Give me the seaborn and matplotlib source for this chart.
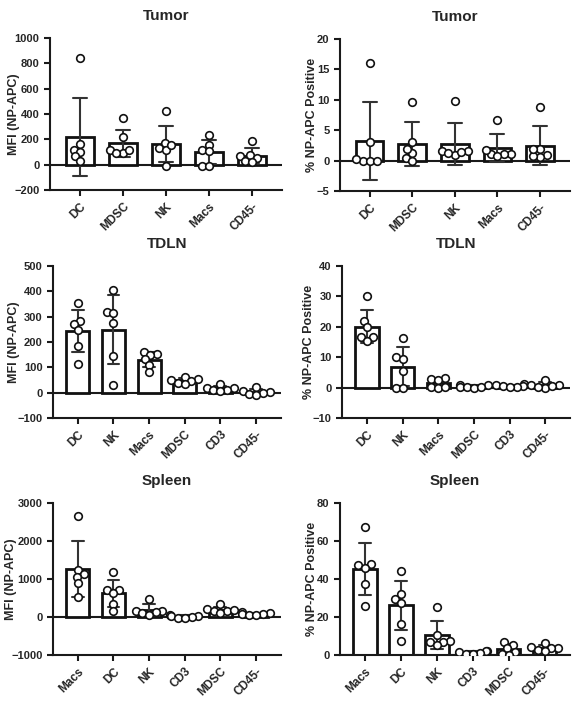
import matplotlib
matplotlib.use("Agg")
import matplotlib.pyplot as plt
import seaborn as sns
import pandas as pd

sns.set_style("ticks")
plt.rcParams["font.family"] = ["Liberation Sans", "DejaVu Sans"]
plt.rcParams["font.weight"] = "bold"
plt.rcParams["axes.labelweight"] = "bold"
plt.rcParams["axes.titleweight"] = "bold"

# individual mice per cell type
tumor_cells = ["DC", "MDSC", "NK", "Macs", "CD45-"]
tumor_mfi = [
    [840, 165, 120, 100, 65, 30],
    [368, 218, 118, 92, 92, 118],
    [426, 171, 132, 118, 152, -13],
    [237, 158, 113, 105, -8, -8],
    [184, 75, 55, 65, 30, 20],
]
tumor_pct = [
    [16.0, 3.0, 0.0, 0.0, 0.0, 0.2],
    [9.7, 3.0, 1.2, 1.9, 0.4, 0.0],
    [9.8, 1.6, 1.5, 0.9, 1.2, 1.4],
    [6.6, 1.15, 1.0, 1.1, 1.8, 0.8],
    [8.8, 1.9, 0.9, 0.6, 0.7, 1.9],
]

tdln_cells = ["DC", "NK", "Macs", "MDSC", "CD3", "CD45-"]
tdln_mfi = [
    [352, 282, 270, 249, 184, 113],
    [407, 319, 313, 273, 144, 32],
    [159, 151, 148, 131, 110, 80],
    [63, 55, 50, 45, 40, 35],
    [35, 20, 17, 12, 10, 8],
    [23, 8, 2, -3, -5, -10],
]
tdln_pct = [
    [30.1, 21.8, 19.8, 16.6, 16.6, 15.4],
    [16.3, 9.9, 9.4, 5.5, 0.0, 0.0],
    [2.8, 3.0, 2.6, 0.1, 0.0, 0.2],
    [0.8, 0.9, 0.3, 0.1, 0.0, 0.2],
    [1.2, 0.9, 0.6, 0.3, 0.5, 0.2],
    [2.5, 0.8, 0.8, 0.0, 0.4, 0.2],
]

spleen_cells = ["Macs", "DC", "NK", "CD3", "MDSC", "CD45-"]
spleen_mfi = [
    [2665, 1236, 1131, 1061, 886, 535],
    [1175, 700, 710, 620, 350, 170],
    [480, 170, 150, 130, 100, 60],
    [50, 30, 20, 0, -20, -40],
    [340, 210, 170, 150, 100, 180],
    [120, 100, 90, 80, 60, 50],
]
spleen_pct = [
    [67.3, 48.0, 47.1, 45.9, 37.5, 26.0],
    [44.1, 32.2, 29.6, 27.5, 16.1, 7.6],
    [25.2, 10.3, 7.6, 6.7, 7.0, 5.4],
    [2.3, 2.1, 1.5, 0.8, 0.4, 0.3],
    [6.7, 5.5, 3.5, 1.8, 0.5, 0.1],
    [6.2, 4.0, 3.7, 3.5, 2.5, 2.1],
]

mfi_label = "MFI (NP-APC)"
pct_label = "% NP-APC Positive"

swarms = []


def panel(rect, cells, values, title, ylabel, yticks, label_x):
    ax = fig.add_axes(rect)
    rows = []
    for c, vals in zip(cells, values):
        for v in vals:
            rows.append({"cell": c, "value": v})
    df = pd.DataFrame(rows)

    ax.axhline(0, color="#1a1a1a", lw=1.5, zorder=0.5)
    sns.barplot(data=df, x="cell", y="value", order=cells, errorbar="sd",
                color="white", edgecolor="#111111", linewidth=2, width=0.65,
                capsize=0.33, err_kws={"color": "#333333", "linewidth": 1.5}, ax=ax)
    n_before = len(ax.collections)
    # swarm laid out with small markers; enlarged later so points overlap like Prism
    sns.swarmplot(data=df, x="cell", y="value", order=cells, color="white",
                  edgecolor="#111111", linewidth=1.2, size=3.6, zorder=3, ax=ax)
    swarms.extend(ax.collections[n_before:])

    ax.set_ylim(yticks[0], yticks[-1])
    ax.set_yticks(yticks)
    ax.set_xlim(-0.7, len(cells) - 0.3)
    sns.despine(ax=ax)
    for s in ["left", "bottom"]:
        ax.spines[s].set_linewidth(1.5)
        ax.spines[s].set_color("#1a1a1a")
    ax.tick_params(axis="y", length=4, width=1.5, labelsize=8, color="#1a1a1a")
    ax.tick_params(axis="x", length=4, width=1.5, labelsize=8.5, color="#1a1a1a")
    plt.setp(ax.get_xticklabels(), rotation=45, ha="right", rotation_mode="anchor")
    ax.set_xlabel("")
    ax.set_ylabel(ylabel, fontsize=9)
    ax.yaxis.set_label_coords(label_x, 0.5)
    ax.set_title(title, fontsize=11, pad=13)
    return ax


fig = plt.figure(figsize=(5.75, 7.02), dpi=100)

panel([0.087, 0.7293, 0.403, 0.2165], tumor_cells, tumor_mfi, "Tumor", mfi_label,
      [-200, 0, 200, 400, 600, 800, 1000], -0.13)
panel([0.591, 0.728, 0.400, 0.2165], tumor_cells, tumor_pct, "Tumor", pct_label,
      [-5, 0, 5, 10, 15, 20], -0.096)
panel([0.092, 0.4046, 0.3965, 0.2165], tdln_cells, tdln_mfi, "TDLN", mfi_label,
      [-100, 0, 100, 200, 300, 400, 500], -0.145)
panel([0.595, 0.4046, 0.3965, 0.2165], tdln_cells, tdln_pct, "TDLN", pct_label,
      [-10, 0, 10, 20, 30, 40], -0.118)
panel([0.092, 0.067, 0.3965, 0.2165], spleen_cells, spleen_mfi, "Spleen", mfi_label,
      [-1000, 0, 1000, 2000, 3000], -0.158)
panel([0.591, 0.067, 0.400, 0.2165], spleen_cells, spleen_pct, "Spleen", pct_label,
      [0, 20, 40, 60, 80], -0.096)

# run the swarm layout once with the small markers, then freeze it and enlarge
fig.canvas.draw()
for coll in swarms:
    if "draw" in coll.__dict__:
        del coll.draw
    coll.set_sizes([30])

fig.savefig("out.png", dpi=100)
